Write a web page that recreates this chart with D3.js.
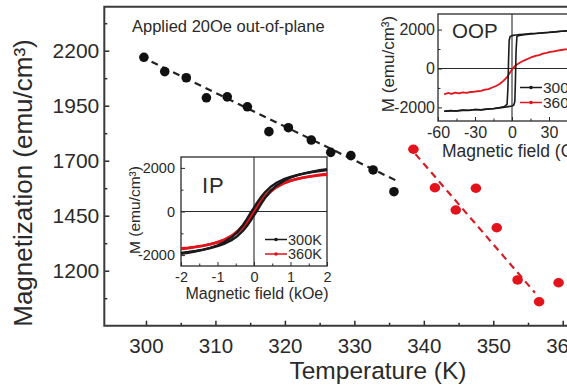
<!DOCTYPE html>
<html><head><meta charset="utf-8">
<script src="https://cdn.jsdelivr.net/npm/d3@7"></script>
<style>
body{margin:0;background:#fff;}
svg{display:block;font-family:"Liberation Sans",Arial,sans-serif;}
</style></head>
<body><svg id="c" width="567" height="387"></svg>
<script>
// ---------- Main data ----------
const blackT = [299.7,302.7,305.8,308.7,311.7,314.6,317.7,320.5,323.8,326.6,329.5,332.7,335.7];
const blackM = [2170,2105,2077,1986,1990,1945,1832,1850,1794,1738,1723,1658,1559];
const redT = [338.5,341.6,344.6,347.5,350.5,353.5,356.6,359.4];
const redM = [1752,1577,1476,1575,1395,1158,1059,1145];
const blackFitT = [300.8,336];
const blackFitM = [2150,1610];
const redFitT = [338.8,356];
const redFitM = [1730,1100];
const xTicks = [300,310,320,330,340,350,360];
const xMinor = [305,315,325,335,345,355,365];
const yTicks = [1200,1450,1700,1950,2200];
const yMinor = [1075,1325,1575,1825,2075,2325];

// ---------- IP inset data (kOe, emu/cm3) ----------
const ipH = [-2,-1.8,-1.6,-1.4,-1.2,-1.0,-0.8,-0.6,-0.45,-0.3,-0.2,-0.1,0,0.1,0.2,0.3,0.45,0.6,0.8,1.0,1.2,1.4,1.6,1.8,2];
const ip300Up = [-1900,-1860,-1810,-1750,-1680,-1590,-1470,-1300,-1120,-880,-680,-440,-180,80,360,620,930,1170,1390,1550,1670,1760,1830,1890,1940];
const ip300Down = [-1940,-1890,-1830,-1760,-1670,-1550,-1390,-1170,-930,-620,-360,-80,180,440,680,880,1120,1300,1470,1590,1680,1750,1810,1860,1900];
const ip360Up = [-1720,-1680,-1630,-1570,-1500,-1410,-1290,-1120,-950,-720,-540,-320,-80,170,420,640,900,1100,1280,1410,1500,1570,1620,1660,1690];
const ip360Down = [-1690,-1660,-1620,-1570,-1500,-1410,-1280,-1100,-900,-640,-420,-170,80,320,540,720,950,1120,1290,1410,1500,1570,1630,1680,1720];
const ipXTicks = [-2,-1,0,1,2];
const ipXMinor = [-1.5,-0.5,0.5,1.5];
const ipYTicks = [-2000,0,2000];
const ipYMinor = [-1000,1000];

// ---------- OOP inset data (Oe, emu/cm3) ----------
const oop300UpH = [-55,-50,-45,-40,-35,-30,-25,-20,-15,-10,-6,-3,0,1.5,2.3,2.8,3.3,4,6,10,15,20,25,30,35,40,45,50,55];
const oop300UpM = [-2200,-2160,-2190,-2140,-2160,-2110,-2130,-2080,-2070,-2030,-1990,-1960,-1930,-1880,-1700,-600,900,1650,1700,1740,1770,1800,1820,1850,1880,1910,1930,1950,1960];
const oop300DownH = [55,50,45,40,35,30,25,20,15,10,6,3,0,-1.5,-2.3,-2.8,-3.3,-4,-6,-10,-15,-20,-25,-30,-35,-40,-45,-50,-55];
const oop300DownM = [1960,1950,1940,1915,1890,1860,1840,1810,1790,1760,1740,1720,1690,1640,1450,400,-1000,-1850,-1950,-2010,-2060,-2090,-2120,-2110,-2150,-2150,-2180,-2180,-2200];
const oop360H = [-55,-52,-49,-46,-43,-40,-37,-34,-31,-28,-25,-22,-19,-16,-13,-10,-7,-4,-2,0,2,4,7,10,13,16,19,22,25,28,31,34,37,40,43,46,50,55];
const oop360M = [-1330,-1260,-1310,-1240,-1280,-1230,-1260,-1210,-1200,-1170,-1150,-1090,-1060,-980,-900,-800,-640,-450,-250,-50,100,200,320,420,500,580,650,690,760,800,850,880,920,950,980,990,1010,1040];
const oopXTicks = [-60,-30,0,30,60];
const oopXMinor = [-45,-15,15,45];
const oopYTicks = [-2000,0,2000];
const oopYMinor = [-1000,1000];

const svg = d3.select("#c");
const ink = "#2a2a2a";
const red = "#e3131b";
const fmt = d => String(d);

// ---------- Main chart ----------
const x = d3.scaleLinear().domain([294,370]).range([104.3,632.2]);
const y = d3.scaleLinear().domain([950,2400]).range([325.7,6.7]);

function styleAxis(g, fs){
  g.select(".domain").remove();
  g.selectAll("line").attr("stroke", ink).attr("stroke-width",1.5);
  g.selectAll("text").attr("fill", ink).attr("font-size", fs).attr("font-family","Liberation Sans, Arial, sans-serif");
}

svg.append("g").attr("transform","translate(0,325.7)")
  .call(d3.axisBottom(x).tickValues(xTicks).tickSize(-5).tickPadding(12.5).tickFormat(fmt))
  .call(g=>styleAxis(g,20.5));
svg.append("g").attr("transform","translate(0,325.7)")
  .call(d3.axisBottom(x).tickValues(xMinor).tickSize(-3).tickFormat(""))
  .call(g=>styleAxis(g,10));
svg.append("g").attr("transform","translate(104.3,0)")
  .call(d3.axisLeft(y).tickValues(yTicks).tickSize(-5).tickPadding(5).tickFormat(fmt))
  .call(g=>styleAxis(g,21));
svg.append("g").attr("transform","translate(104.3,0)")
  .call(d3.axisLeft(y).tickValues(yMinor).tickSize(-3).tickFormat(""))
  .call(g=>styleAxis(g,10));

// frame
svg.append("path").attr("d",`M${x(370)},${y(2400)}H${x(294)}V${y(950)}H${x(370)}`)
  .attr("fill","none").attr("stroke","#3a3a3a").attr("stroke-width",2);

// fit lines
const line = d3.line().x(d=>x(d[0])).y(d=>y(d[1]));
svg.append("path").datum(d3.zip(blackFitT,blackFitM)).attr("d",line)
  .attr("fill","none").attr("stroke","#222").attr("stroke-width",2.2).attr("stroke-dasharray","7,5");
svg.append("path").datum(d3.zip(redFitT,redFitM)).attr("d",line)
  .attr("fill","none").attr("stroke","#d21f26").attr("stroke-width",2.2).attr("stroke-dasharray","7,5");

svg.append("g").selectAll("circle").data(d3.zip(blackT,blackM)).join("circle")
  .attr("cx",d=>x(d[0])).attr("cy",d=>y(d[1])).attr("r",4.8).attr("fill","#111");
svg.append("g").selectAll("ellipse").data(d3.zip(redT,redM)).join("ellipse")
  .attr("cx",d=>x(d[0])).attr("cy",d=>y(d[1])).attr("rx",5.3).attr("ry",4.7).attr("fill",red);

svg.append("text").attr("x",132).attr("y",32).attr("font-size",16.5).attr("fill",ink)
  .text("Applied 20Oe out-of-plane");
svg.append("text").attr("x",378).attr("y",379).attr("text-anchor","middle").attr("font-size",24.5).attr("fill",ink)
  .text("Temperature (K)");
svg.append("text").attr("transform","translate(32,183) rotate(-90)").attr("text-anchor","middle")
  .attr("font-size",26).attr("fill",ink).text("Magnetization (emu/cm³)");

// ---------- Inset helper ----------
function inset(o){
  const g = svg.append("g");
  const ix = d3.scaleLinear().domain(o.xd).range(o.xr);
  const iy = d3.scaleLinear().domain(o.yd).range(o.yr);
  g.append("rect").attr("x",o.xr[0]).attr("y",o.yr[1]).attr("width",o.xr[1]-o.xr[0]).attr("height",o.yr[0]-o.yr[1])
    .attr("fill","#fff").attr("stroke",ink).attr("stroke-width",1.3);
  g.append("line").attr("x1",ix(0)).attr("x2",ix(0)).attr("y1",o.yr[1]).attr("y2",o.yr[0]).attr("stroke",ink).attr("stroke-width",1.1);
  g.append("line").attr("x1",o.xr[0]).attr("x2",o.xr[1]).attr("y1",iy(0)).attr("y2",iy(0)).attr("stroke",ink).attr("stroke-width",1.1);
  g.append("g").attr("transform",`translate(0,${o.yr[0]})`)
    .call(d3.axisBottom(ix).tickValues(o.xt).tickSize(-4).tickPadding(o.xpad).tickFormat(fmt))
    .call(a=>styleAxis(a,o.fs)).call(a=>a.selectAll("line").attr("stroke-width",1));
  g.append("g").attr("transform",`translate(0,${o.yr[0]})`)
    .call(d3.axisBottom(ix).tickValues(o.xm).tickSize(-2.5).tickFormat(""))
    .call(a=>styleAxis(a,o.fs)).call(a=>a.selectAll("line").attr("stroke-width",1));
  g.append("g").attr("transform",`translate(${o.xr[0]},0)`)
    .call(d3.axisLeft(iy).tickValues(o.yt).tickSize(-4).tickPadding(o.ypad).tickFormat(fmt))
    .call(a=>styleAxis(a,o.fs)).call(a=>a.selectAll("line").attr("stroke-width",1));
  g.append("g").attr("transform",`translate(${o.xr[0]},0)`)
    .call(d3.axisLeft(iy).tickValues(o.ym).tickSize(-2.5).tickFormat(""))
    .call(a=>styleAxis(a,o.fs)).call(a=>a.selectAll("line").attr("stroke-width",1));
  const cl = d3.line().x(d=>ix(d[0])).y(d=>iy(d[1]));
  o.curves.forEach(c=>{
    g.append("path").datum(c.pts).attr("d",cl).attr("fill","none")
      .attr("stroke",c.color).attr("stroke-width",c.w).attr("stroke-linejoin","round");
  });
  o.legend.forEach((l,i)=>{
    const ly = o.legY[i];
    g.append("line").attr("x1",o.legX[0]).attr("x2",o.legX[1]).attr("y1",ly).attr("y2",ly)
      .attr("stroke",l.color).attr("stroke-width",1.5);
    g.append("circle").attr("cx",(o.legX[0]+o.legX[1])/2).attr("cy",ly).attr("r",1.8).attr("fill",l.color);
    g.append("text").attr("x",o.legX[1]+1).attr("y",ly+o.legFs*0.36).attr("font-size",o.legFs).attr("fill",ink).text(l.label);
  });
  g.append("text").attr("x",o.title[0]).attr("y",o.title[1]).attr("font-size",o.title[3]).attr("fill",ink)
    .attr("letter-spacing",o.title[4]).text(o.title[2]);
  g.append("text").attr("x",o.xl[0]).attr("y",o.xl[1]).attr("text-anchor",o.xl[3]).attr("font-size",o.xl[4]).attr("fill",ink).text(o.xl[2]);
  g.append("text").attr("transform",`translate(${o.yl[0]},${o.yl[1]}) rotate(-90)`).attr("text-anchor","middle")
    .attr("font-size",o.yl[2]).attr("fill",ink).text("M (emu/cm³)");
}

inset({
  xd:[-2,2], xr:[181,327], yd:[-2500,2500], yr:[266,157],
  xt:ipXTicks, xm:ipXMinor, yt:ipYTicks, ym:ipYMinor, fs:14.5, xpad:6, ypad:6,
  curves:[
    {pts:d3.zip(ipH,ip360Up), color:red, w:2.6},
    {pts:d3.zip(ipH,ip360Down), color:red, w:2.6},
    {pts:d3.zip(ipH,ip300Up), color:"#1a1a1a", w:2.4},
    {pts:d3.zip(ipH,ip300Down), color:"#1a1a1a", w:2.4}
  ],
  legend:[{label:"300K",color:"#1a1a1a"},{label:"360K",color:red}],
  legX:[265,287], legY:[239.5,254], legFs:14.5,
  title:[202,193,"IP",22,1],
  xl:[257,299,"Magnetic field (kOe)","middle",16],
  yl:[140,210,15.5]
});

inset({
  xd:[-60,60], xr:[438,586], yd:[-2700,2800], yr:[121,14],
  xt:oopXTicks, xm:oopXMinor, yt:oopYTicks, ym:oopYMinor, fs:16, xpad:5.5, ypad:3,
  curves:[
    {pts:d3.zip(oop360H,oop360M), color:red, w:1.8},
    {pts:d3.zip(oop300UpH,oop300UpM), color:"#1a1a1a", w:1.6},
    {pts:d3.zip(oop300DownH,oop300DownM), color:"#1a1a1a", w:1.6}
  ],
  legend:[{label:"300K",color:"#1a1a1a"},{label:"360K",color:red}],
  legX:[520,542], legY:[87.5,102.5], legFs:15.5,
  title:[452,38,"OOP",20.5,0],
  xl:[442,157,"Magnetic field (Oe)","start",17.5],
  yl:[394,64,17]
});
</script></body></html>
